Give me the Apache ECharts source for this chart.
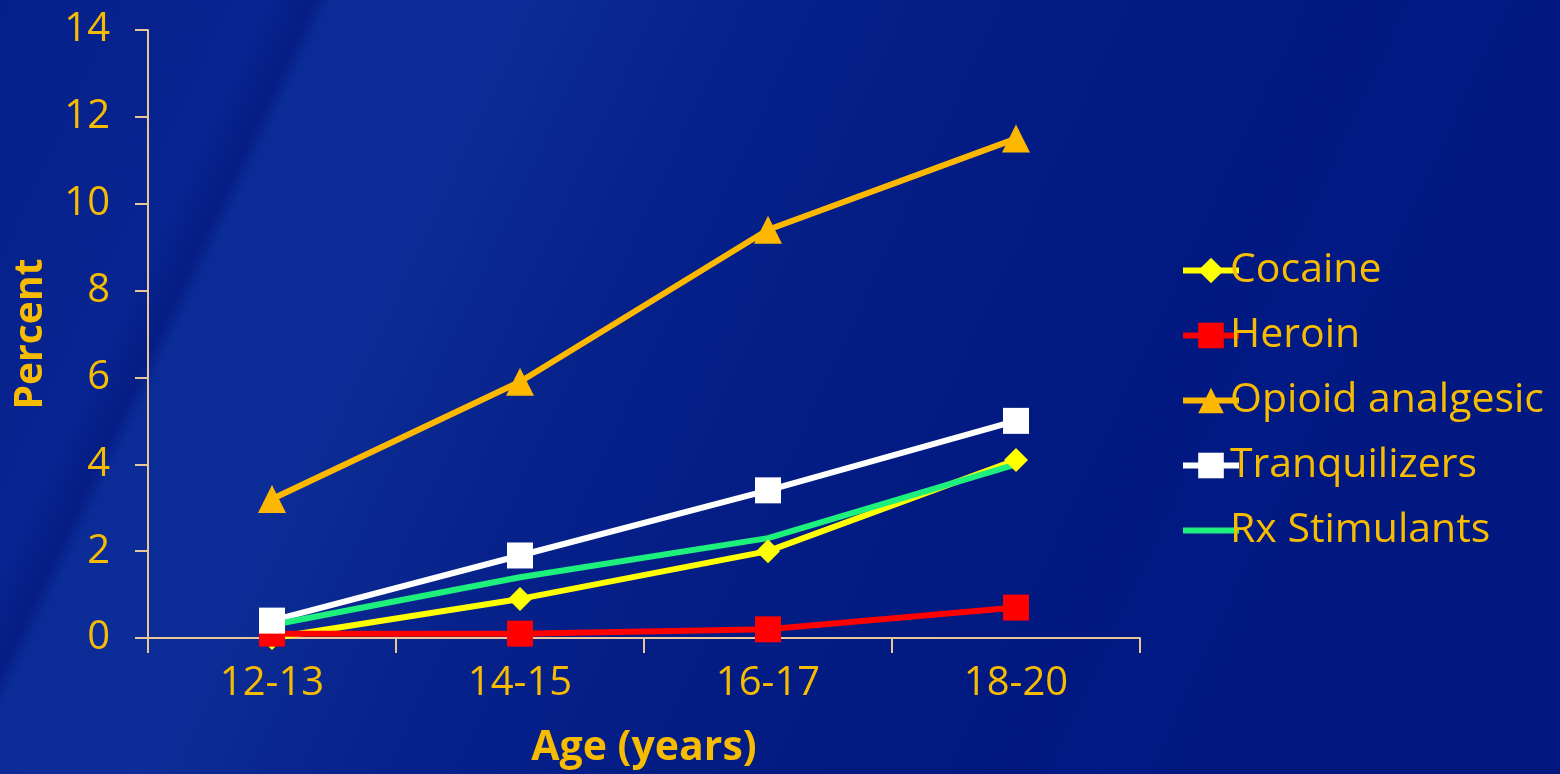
<!DOCTYPE html>
<html>
<head>
<meta charset="utf-8">
<script src="https://cdn.jsdelivr.net/npm/echarts@6/dist/echarts.min.js"></script>
<style>
  html, body { margin: 0; padding: 0; width: 1560px; height: 774px; overflow: hidden; }
  body {
    background: linear-gradient(115deg,
      #06208a 0%, #082490 14%, #051d84 16.3%, #0b2b96 17.2%, #0c2d98 26%,
      #0a2990 31%, #06218a 40%, #031c84 55%, #001880 72%, #021a84 76%, #001880 80%, #001880 100%);
  }
  #chart { width: 1560px; height: 774px; }
</style>
</head>
<body>
<div id="chart"></div>
<script>
// Age groups on the x axis
const categories = ['12-13', '14-15', '16-17', '18-20'];

// Past-year use, percent
const cocaine = [0.0, 0.9, 2.0, 4.1];
const heroin = [0.1, 0.1, 0.2, 0.7];
const opioidAnalgesic = [3.2, 5.9, 9.4, 11.5];
const tranquilizers = [0.4, 1.9, 3.4, 5.0];
const rxStimulants = [0.3, 1.4, 2.3, 4.0];

const textColor = '#f7bb00';
const axisColor = '#e8c697';
const fontFamily = '"Open Sans", "DejaVu Sans", sans-serif';

// Plain bar used as the legend icon of the marker-less series
const lineOnlyIcon = 'path://M0,0H0.01V0.01H0Z M0,13H56V19H0Z M0,31.99H0.01V32H0Z';

const chart = echarts.init(document.getElementById('chart'), null, { renderer: 'canvas' });

function lineSeries(name, data, color, symbol, size) {
  return {
    name: name,
    type: 'line',
    data: data,
    symbol: symbol,
    symbolSize: size,
    showSymbol: symbol !== 'none',
    lineStyle: { color: color, width: 6 },
    itemStyle: { color: color },
    emphasis: { disabled: true },
    animation: false
  };
}

chart.setOption({
  backgroundColor: 'transparent',
  textStyle: { fontFamily: fontFamily },
  grid: { left: 148, right: 420, top: 30, bottom: 132, containLabel: false },
  legend: {
    orient: 'vertical',
    left: 1175,
    top: 245,
    itemWidth: 56,
    itemHeight: 32,
    itemGap: 24,
    lineStyle: { width: 6 },
    textStyle: { color: textColor, fontSize: 41, lineHeight: 40, fontFamily: fontFamily, padding: [0, 0, 0, -14] },
    data: [
      'Cocaine',
      'Heroin',
      'Opioid analgesic',
      'Tranquilizers',
      { name: 'Rx Stimulants', icon: lineOnlyIcon }
    ]
  },
  xAxis: {
    type: 'category',
    data: categories,
    boundaryGap: true,
    name: 'Age (years)',
    nameLocation: 'middle',
    nameGap: 90,
    nameTextStyle: { color: textColor, fontSize: 41, fontWeight: 'bold', fontFamily: fontFamily },
    axisLine: { show: true, lineStyle: { color: axisColor, width: 2 } },
    axisTick: { show: true, alignWithLabel: false, length: 15, lineStyle: { color: axisColor, width: 2 } },
    axisLabel: { color: textColor, fontSize: 40, margin: 26, fontFamily: fontFamily },
    splitLine: { show: false }
  },
  yAxis: {
    type: 'value',
    min: 0,
    max: 14,
    interval: 2,
    name: 'Percent',
    nameLocation: 'middle',
    nameGap: 98,
    nameRotate: 90,
    nameTextStyle: { color: textColor, fontSize: 39, fontWeight: 'bold', fontFamily: fontFamily },
    axisLine: { show: true, lineStyle: { color: axisColor, width: 2 } },
    axisTick: { show: true, inside: false, length: 13, lineStyle: { color: axisColor, width: 2 } },
    axisLabel: { color: textColor, fontSize: 40, margin: 38, fontFamily: fontFamily },
    splitLine: { show: false }
  },
  series: [
    lineSeries('Cocaine', cocaine, '#ffff00', 'diamond', 24),
    lineSeries('Heroin', heroin, '#ff0000', 'rect', 26),
    lineSeries('Opioid analgesic', opioidAnalgesic, '#ffb800', 'triangle', 28),
    lineSeries('Tranquilizers', tranquilizers, '#ffffff', 'rect', 26),
    lineSeries('Rx Stimulants', rxStimulants, '#1ef07e', 'none', 0)
  ]
});
</script>
</body>
</html>
